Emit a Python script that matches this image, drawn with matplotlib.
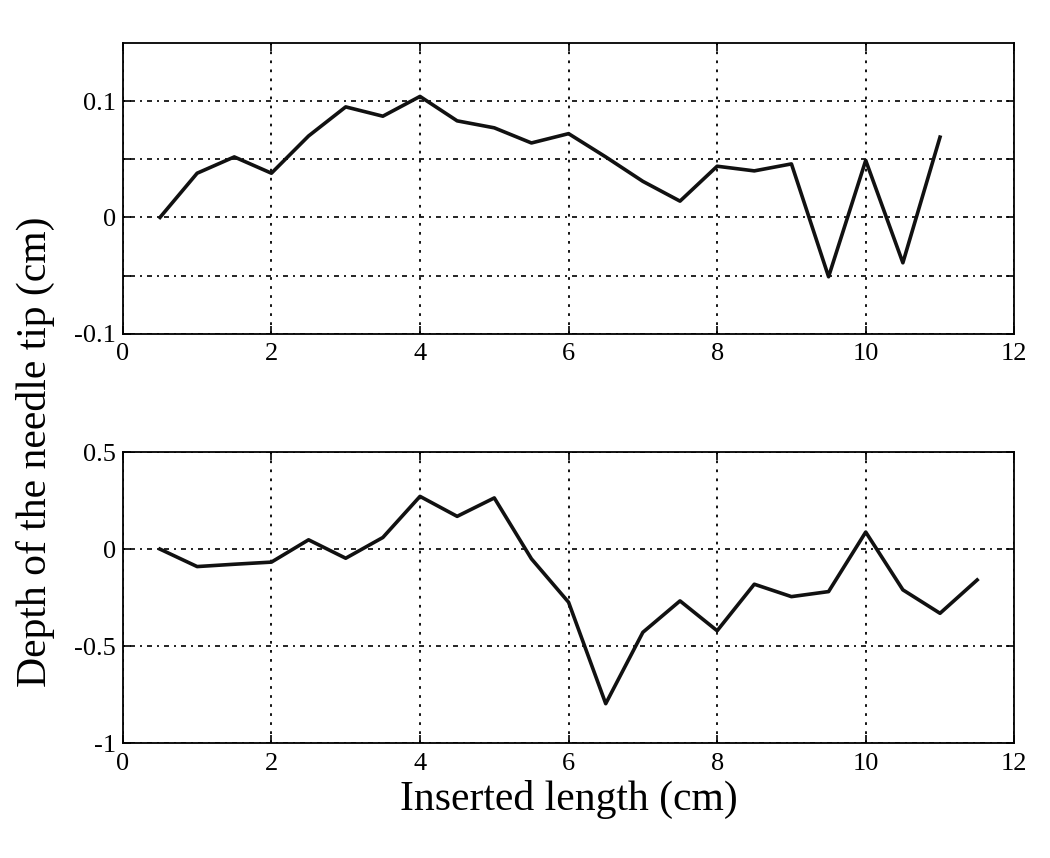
import matplotlib
matplotlib.use("Agg")
import matplotlib.pyplot as plt

plt.rcParams["font.family"] = ["Liberation Serif", "DejaVu Serif"]

# inserted length (cm)
x_top = [0.5, 1, 1.5, 2, 2.5, 3, 3.5, 4, 4.5, 5, 5.5, 6, 6.5, 7, 7.5, 8,
         8.5, 9, 9.5, 10, 10.5, 11]
depth_top = [0.0, 0.038, 0.052, 0.038, 0.070, 0.095, 0.087, 0.104, 0.083,
             0.077, 0.064, 0.072, 0.052, 0.031, 0.014, 0.044, 0.040, 0.046,
             -0.051, 0.049, -0.039, 0.069]

x_bot = [0.5, 1, 1.5, 2, 2.5, 3, 3.5, 4, 4.5, 5, 5.5, 6, 6.5, 7, 7.5, 8,
         8.5, 9, 9.5, 10, 10.5, 11, 11.5]
depth_bot = [0.0, -0.09, -0.078, -0.067, 0.048, -0.047, 0.06, 0.272, 0.169,
             0.264, -0.05, -0.274, -0.797, -0.429, -0.267, -0.421, -0.181,
             -0.245, -0.219, 0.088, -0.21, -0.331, -0.159]

xticks = [0, 2, 4, 6, 8, 10, 12]
top_yticks = [-0.1, -0.05, 0, 0.05, 0.1]
top_ylabels = ["-0.1", "", "0", "", "0.1"]
bot_yticks = [-1, -0.5, 0, 0.5]
bot_ylabels = ["-1", "-0.5", "0", "0.5"]

fig = plt.figure(figsize=(10.5, 8.58), dpi=100)
ax1 = fig.add_axes([0.117, 0.611, 0.849, 0.339])
ax2 = fig.add_axes([0.117, 0.134, 0.849, 0.339])


def style(ax, yticks, ylabels, ylim):
    ax.set_xlim(0, 12)
    ax.set_ylim(*ylim)
    ax.set_xticks(xticks)
    ax.set_xticklabels([str(t) for t in xticks])
    ax.set_yticks(yticks)
    ax.set_yticklabels(ylabels)
    ax.tick_params(direction="in", top=True, right=True, length=6, width=1.2,
                   labelsize=19)
    ax.tick_params(axis="y", pad=5)
    ax.tick_params(axis="x", pad=7)
    # MATLAB-like grid: dotted verticals, dash-dot horizontals
    ax.xaxis.grid(True, color="black", linestyle=(0, (1.5, 3.5)), linewidth=1.3)
    ax.yaxis.grid(True, color="black", linestyle=(0, (1.2, 3, 3, 3)), linewidth=1.2)
    for s in ax.spines.values():
        s.set_linewidth(1.3)


ax1.plot(x_top, depth_top, color="#111111", linewidth=2.6)
style(ax1, top_yticks, top_ylabels, (-0.1, 0.15))

ax2.plot(x_bot, depth_bot, color="#111111", linewidth=2.6)
style(ax2, bot_yticks, bot_ylabels, (-1, 0.5))
ax2.set_xlabel("Inserted length (cm)", fontsize=30, labelpad=4)

fig.text(0.034, 0.474, "Depth of the needle tip (cm)", rotation=90,
         ha="center", va="center", fontsize=30)

fig.savefig("out.png", dpi=100)
